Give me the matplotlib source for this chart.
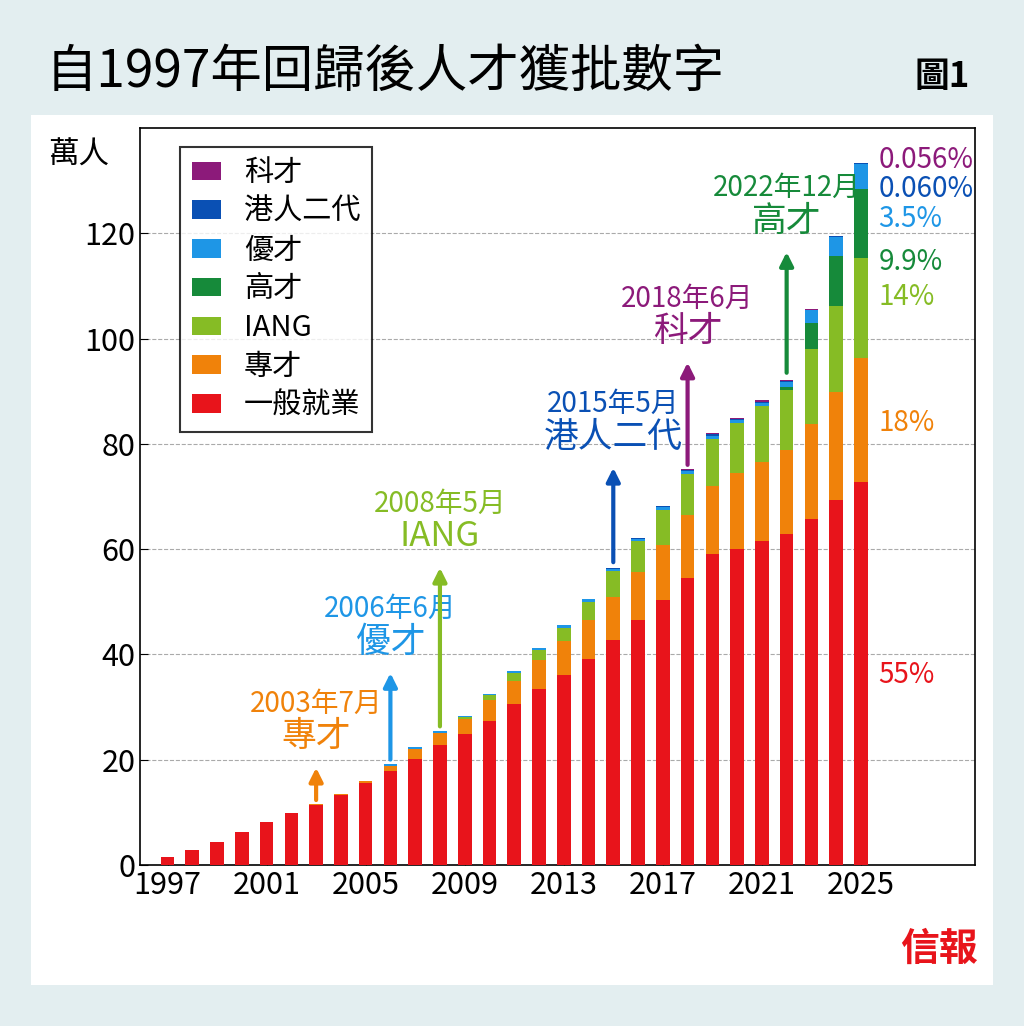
import matplotlib.pyplot as plt
import numpy as np

plt.rcParams['font.family'] = ['Noto Sans CJK TC', 'DejaVu Sans']

years = list(range(1997, 2026))
general = [1.5, 2.8, 4.4, 6.2, 8.1, 9.9, 11.3, 13.2, 15.5, 17.8, 20.2, 22.8, 24.8, 27.4, 30.5,
           33.5, 36.0, 39.2, 42.8, 46.5, 50.3, 54.5, 59.0, 60.0, 61.5, 62.8, 65.8, 69.3, 72.8]
special = [0, 0, 0, 0, 0, 0, 0.2, 0.3, 0.5, 1.0, 1.8, 2.2, 3.0, 4.0, 4.5,
           5.5, 6.5, 7.4, 8.2, 9.2, 10.5, 12.0, 13.0, 14.5, 15.0, 16.0, 18.0, 20.5, 23.5]
iang = [0, 0, 0, 0, 0, 0, 0, 0, 0, 0, 0, 0.1, 0.3, 0.8, 1.5,
        1.8, 2.6, 3.4, 4.8, 5.8, 6.7, 7.8, 9.0, 9.5, 10.8, 11.4, 14.3, 16.5, 19.0]
high = [0]*25 + [0.6, 4.8, 9.5, 13.2]
quality = [0, 0, 0, 0, 0, 0, 0, 0, 0, 0.4, 0.4, 0.3, 0.2, 0.3, 0.3,
           0.4, 0.5, 0.5, 0.4, 0.5, 0.5, 0.5, 0.6, 0.6, 0.5, 1.0, 2.5, 3.6, 4.8]
second = [0]*18 + [0.3, 0.2, 0.2, 0.2, 0.2, 0.2, 0.2, 0.1, 0.1, 0.1, 0.08]
tech = [0]*21 + [0.2, 0.2, 0.2, 0.3, 0.2, 0.1, 0.1, 0.07]

series = [('一般就業', general, '#e8141b'), ('專才', special, '#f0820a'),
          ('IANG', iang, '#86bc25'), ('高才', high, '#168a3a'),
          ('優才', quality, '#1e96e6'), ('港人二代', second, '#0a50b4'),
          ('科才', tech, '#8c1a7a')]

fig = plt.figure(figsize=(10.24, 10.26), dpi=100)
fig.patch.set_facecolor('white')
fig.add_artist(plt.Rectangle((0, 0), 1, 1, transform=fig.transFigure, fc='#e3eef0', zorder=-3))
fig.add_artist(plt.Rectangle((0.03, 0.04), 0.94, 0.848, transform=fig.transFigure, fc='white', zorder=-2))

ax = fig.add_axes([0.137, 0.157, 0.815, 0.718])
bottom = np.zeros(len(years))
handles = []
for name, vals, col in series:
    b = ax.bar(years, vals, bottom=bottom, width=0.55, color=col, label=name, zorder=3)
    bottom += np.array(vals)
    handles.append(b)

ax.set_xlim(1995.9, 2029.6)
ax.set_ylim(0, 140)
ax.set_yticks(range(0, 121, 20))
ax.set_xticks(range(1997, 2026, 4))
ax.tick_params(labelsize=22, direction='in', length=6)
for y in range(20, 121, 20):
    ax.axhline(y, color='#aaaaaa', ls='--', lw=0.8, zorder=1)
for s in ax.spines.values():
    s.set_linewidth(1.2)
ax.text(-0.11, 0.985, '萬人', transform=ax.transAxes, fontsize=22, va='top')

leg = ax.legend(handles[::-1], [s[0] for s in series][::-1], loc='upper left',
                bbox_to_anchor=(0.03, 0.995), fontsize=21, frameon=True, fancybox=False,
                edgecolor='black', handlelength=1.0, handleheight=0.6, labelspacing=0.3)
leg.get_frame().set_linewidth(1.5)

# arrows and labels
notes = [(2003, 11.8, 19, '2003年7月', '專才', '#f0820a'),
         (2006, 19.5, 37, '2006年6月', '優才', '#1e96e6'),
         (2008, 25.8, 57, '2008年5月', 'IANG', '#86bc25'),
         (2015, 57, 76, '2015年5月', '港人二代', '#0a50b4'),
         (2018, 75.5, 96, '2018年6月', '科才', '#8c1a7a'),
         (2022, 93, 117, '2022年12月', '高才', '#168a3a')]
for x, y0, y1, d, n, c in notes:
    ax.annotate('', xy=(x, y1), xytext=(x, y0),
                arrowprops=dict(arrowstyle='-|>', color=c, lw=3, mutation_scale=20))
    ax.text(x, y1 + 2, n, color=c, fontsize=25, ha='center', va='bottom')
    ax.text(x, y1 + 8.8, d, color=c, fontsize=20, ha='center', va='bottom')

pcts = [(134, '0.056%', '#8c1a7a'), (128.5, '0.060%', '#0a50b4'), (122.8, '3.5%', '#1e96e6'),
        (114.5, '9.9%', '#168a3a'), (108, '14%', '#86bc25'), (84, '18%', '#f0820a'),
        (36, '55%', '#e8141b')]
for y, t, c in pcts:
    ax.text(2025.7, y, t, color=c, fontsize=20, va='center')

fig.text(0.045, 0.93, '自1997年回歸後人才獲批數字', fontsize=37, va='center', weight='medium')
fig.text(0.893, 0.925, '圖1', fontsize=25, va='center', weight='bold')
fig.text(0.955, 0.075, '信報', fontsize=28, color='#e8141b', ha='right', va='center',
         weight='bold', family=['Noto Sans CJK TC'])

fig.savefig('out.png', dpi=100)
